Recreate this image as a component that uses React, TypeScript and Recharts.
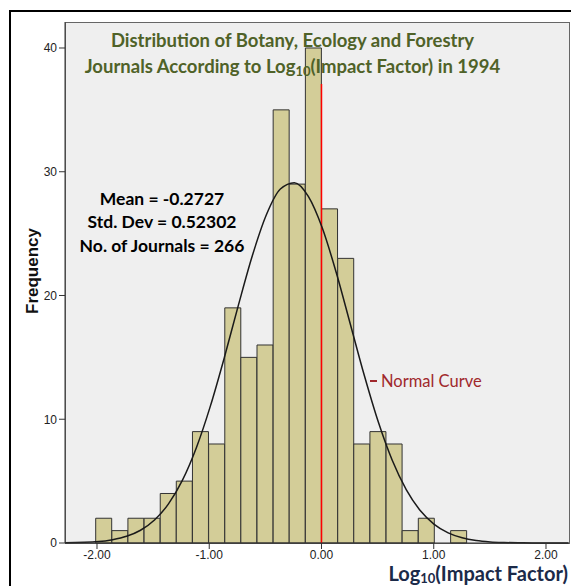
import React from 'react'
import {
  ComposedChart,
  Bar,
  Line,
  XAxis,
  YAxis,
  ReferenceLine,
} from 'recharts'

// histogram bins (centre of each bin on the log10 scale) and journal counts
const binCenters = [
  -1.94, -1.796, -1.653, -1.509, -1.365, -1.222, -1.078, -0.934, -0.79, -0.647, -0.503, -0.359,
  -0.216, -0.072, 0.072, 0.216, 0.359, 0.503, 0.647, 0.79, 0.934, 1.078, 1.222,
]
const binCounts = [2, 1, 2, 2, 4, 5, 9, 8, 19, 15, 16, 35, 29, 40, 27, 23, 8, 9, 8, 1, 2, 0, 1]

// fitted normal curve
const curveX = [
  -2.3, -2.0, -1.875, -1.75, -1.625, -1.5, -1.375, -1.25, -1.125, -1.0, -0.875, -0.75, -0.625,
  -0.5, -0.375, -0.25, -0.125, 0, 0.125, 0.25, 0.375, 0.5, 0.625, 0.75, 0.875, 1.0, 1.125, 1.25,
  1.375, 1.5, 1.625, 1.75, 1.875, 2.0, 2.2,
]
const curveY = [
  0.02, 0.12, 0.27, 0.54, 1.03, 1.86, 3.16, 5.08, 7.72, 11.08, 15.01, 19.22, 23.23, 26.52, 28.6,
  29.12, 28.01, 25.45, 21.84, 17.7, 13.55, 9.79, 6.68, 4.31, 2.62, 1.51, 0.82, 0.42, 0.2, 0.09,
  0.04, 0.015, 0.006, 0.002, 0,
]

const xTicks = [-2, -1, 0, 1, 2]
const yTicks = [0, 10, 20, 30, 40]
const xDomain: [number, number] = [-2.285, 2.205]
const yDomain: [number, number] = [0, 42.1]
const redLineTop = 37.1

const bins = binCenters.map((c, i) => ({ center: c, count: binCounts[i] }))
const curve = curveX.map((x, i) => ({ x, y: curveY[i] }))

const titleStyle: React.CSSProperties = {
  position: 'absolute',
  left: 40,
  width: 505,
  textAlign: 'center',
  fontFamily: 'Lato, sans-serif',
  fontWeight: 700,
  fontSize: 18.5,
  lineHeight: '22px',
  color: '#4F6228',
  whiteSpace: 'nowrap',
}

const statStyle: React.CSSProperties = {
  position: 'absolute',
  left: 62,
  width: 200,
  textAlign: 'center',
  fontFamily: 'Lato, sans-serif',
  fontWeight: 700,
  fontSize: 17.5,
  lineHeight: '21px',
  color: '#000',
  whiteSpace: 'nowrap',
}

export default function App() {
  return (
    <div
      style={{
        position: 'absolute',
        left: 0,
        top: 0,
        width: 571,
        height: 586,
        background: '#fff',
        overflow: 'hidden',
      }}
    >
      {/* outer frame */}
      <div
        style={{
          position: 'absolute',
          left: 9,
          top: 10,
          width: 600,
          height: 600,
          borderLeft: '2px solid #000',
          borderTop: '2px solid #000',
        }}
      />
      {/* plot background */}
      <div
        style={{
          position: 'absolute',
          left: 65,
          top: 22,
          width: 503,
          height: 520,
          background: '#EFEFEF',
          border: '1px solid #666',
        }}
      />

      <div style={{ position: 'absolute', left: 0, top: 0 }}>
        <ComposedChart
          width={571}
          height={586}
          data={bins}
          margin={{ top: 22, right: 2, bottom: 0, left: 5 }}
          barCategoryGap={0}
          barGap={0}
        >
          <XAxis
            dataKey="center"
            type="number"
            domain={xDomain}
            ticks={xTicks}
            tickFormatter={(v: number) => v.toFixed(2)}
            height={43}
            stroke="#333"
            tickSize={6}
            tickMargin={1}
            tick={{ fill: '#222', fontSize: 12, fontFamily: 'Liberation Sans, Arial, sans-serif' }}
          />
          <XAxis xAxisId="curve" dataKey="x" type="number" domain={xDomain} hide />
          <YAxis
            type="number"
            domain={yDomain}
            ticks={yTicks}
            width={60}
            stroke="#333"
            tickSize={6}
            tickMargin={2}
            tick={{ fill: '#222', fontSize: 12, fontFamily: 'Liberation Sans, Arial, sans-serif' }}
          />
          <Bar
            dataKey="count"
            fill="#D3CD98"
            stroke="#333"
            strokeWidth={1}
            isAnimationActive={false}
          />
          <ReferenceLine
            segment={[
              { x: 0, y: 0 },
              { x: 0, y: redLineTop },
            ]}
            stroke="#FF0000"
            strokeWidth={1.5}
          />
          <Line
            data={curve}
            xAxisId="curve"
            dataKey="y"
            type="monotone"
            stroke="#1a1a1a"
            strokeWidth={1.5}
            dot={false}
            isAnimationActive={false}
          />
        </ComposedChart>
      </div>

      {/* title */}
      <div style={{ ...titleStyle, top: 29 }}>Distribution of Botany, Ecology and Forestry</div>
      <div style={{ ...titleStyle, top: 55 }}>
        Journals According to Log<sub style={{ fontSize: 13, verticalAlign: -3, lineHeight: 0 }}>10</sub>(Impact Factor) in 1994
      </div>

      {/* summary stats */}
      <div style={{ ...statStyle, top: 188 }}>Mean = -0.2727</div>
      <div style={{ ...statStyle, top: 211 }}>Std. Dev = 0.52302</div>
      <div style={{ ...statStyle, top: 235 }}>No. of Journals = 266</div>

      {/* legend */}
      <div
        style={{
          position: 'absolute',
          left: 370,
          top: 380,
          width: 7,
          height: 2,
          background: '#A0282C',
        }}
      />
      <div
        style={{
          position: 'absolute',
          left: 381,
          top: 371,
          fontFamily: 'Lato, sans-serif',
          fontSize: 16.5,
          lineHeight: '20px',
          color: '#A0282C',
          whiteSpace: 'nowrap',
        }}
      >
        Normal Curve
      </div>

      {/* axis titles */}
      <div
        style={{
          position: 'absolute',
          left: 33,
          top: 271,
          transform: 'translate(-50%, -50%) rotate(-90deg)',
          fontFamily: 'Liberation Sans, Arial, sans-serif',
          fontWeight: 700,
          fontSize: 17,
          color: '#111',
          whiteSpace: 'nowrap',
        }}
      >
        Frequency
      </div>
      <div
        style={{
          position: 'absolute',
          right: 3,
          top: 563,
          fontFamily: 'Lato, sans-serif',
          fontWeight: 700,
          fontSize: 20,
          lineHeight: '20px',
          color: '#1B2A49',
          whiteSpace: 'nowrap',
        }}
      >
        Log<sub style={{ fontSize: 13, verticalAlign: -2, lineHeight: 0 }}>10</sub>(Impact Factor)
      </div>
    </div>
  )
}
